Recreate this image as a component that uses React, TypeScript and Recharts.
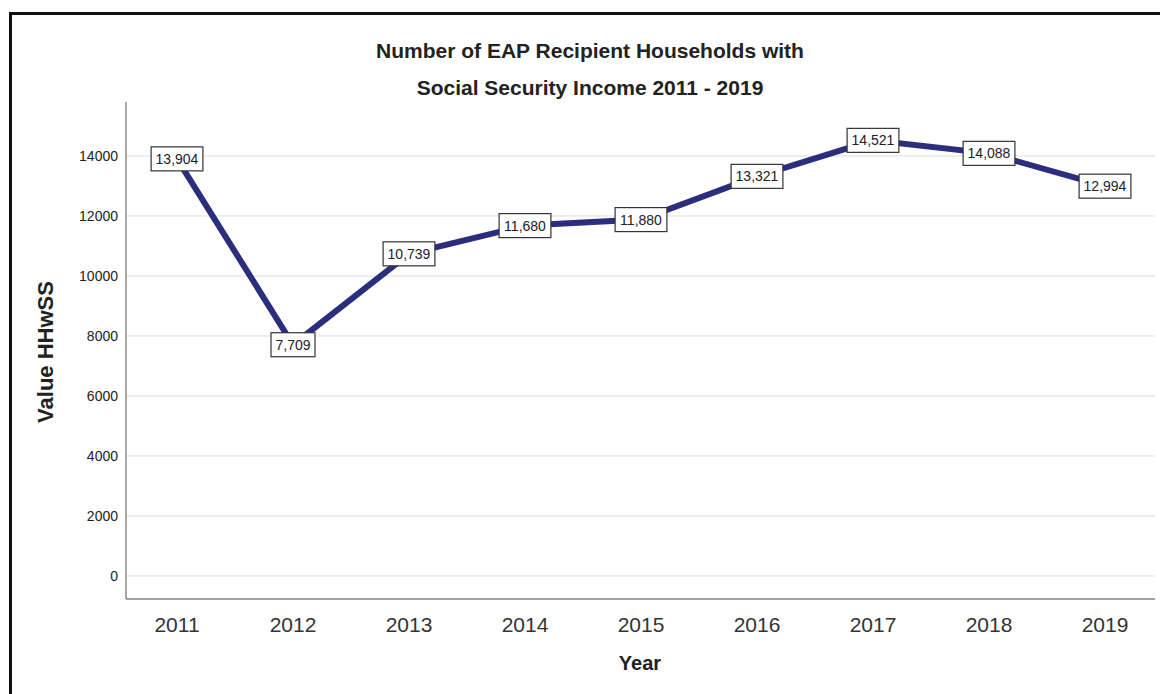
import React from "react";
import { LineChart, Line, XAxis, YAxis, CartesianGrid, LabelList } from "recharts";

const years = ["2011", "2012", "2013", "2014", "2015", "2016", "2017", "2018", "2019"];
const households = [13904, 7709, 10739, 11680, 11880, 13321, 14521, 14088, 12994];
const yTicks = [0, 2000, 4000, 6000, 8000, 10000, 12000, 14000];

const data = years.map((year, i) => ({ year, value: households[i] }));

const font = "Arial, 'Liberation Sans', sans-serif";

function BoxLabel(props: any) {
  const { x, y, value } = props;
  const text = Number(value).toLocaleString("en-US");
  const w = text.length * 7.8 + 5;
  const h = 24;
  return (
    <g>
      <rect x={x - w / 2} y={y - h / 2} width={w} height={h} fill="#fff" stroke="#333" strokeWidth={1.2} />
      <text x={x} y={y + 5} textAnchor="middle" fontSize={14} fontFamily={font} fill="#222">
        {text}
      </text>
    </g>
  );
}

export default function App() {
  return (
    <div style={{ position: "absolute", left: 0, top: 0, width: 1160, height: 694, background: "#fff", overflow: "hidden", fontFamily: font }}>
      <div style={{ position: "absolute", left: 9, top: 12, width: 1160, height: 694, borderTop: "3px solid #111", borderLeft: "3px solid #111" }} />
      <div style={{ position: "absolute", left: 290, width: 600, top: 32, textAlign: "center", fontSize: 21, fontWeight: "bold", color: "#222", lineHeight: "37px" }}>
        Number of EAP Recipient Households with
        <br />
        Social Security Income 2011 - 2019
      </div>
      <div style={{ position: "absolute", left: 46, top: 352, transform: "translate(-50%, -50%) rotate(-90deg)", whiteSpace: "nowrap", fontSize: 22, fontWeight: "bold", color: "#222" }}>
        Value HHwSS
      </div>
      <div style={{ position: "absolute", left: 640, top: 663, transform: "translate(-50%, -50%)", fontSize: 20, fontWeight: "bold", color: "#222" }}>
        Year
      </div>
      <div style={{ position: "absolute", left: 0, top: 0 }}>
        <LineChart width={1160} height={694} data={data} margin={{ top: 102, right: 5, bottom: 65, left: 66 }}>
          <CartesianGrid vertical={false} stroke="#dcdcdc" horizontalValues={yTicks} />
          <XAxis
            dataKey="year"
            height={30}
            padding={{ left: 51, right: 50 }}
            tickLine={false}
            tickMargin={12}
            stroke="#444"
            tick={{ fontSize: 21, fill: "#333", fontFamily: font }}
          />
          <YAxis
            width={60}
            domain={[-767, 15800]}
            ticks={yTicks}
            interval={0}
            tickLine={false}
            stroke="#555"
            tick={{ fontSize: 14, fill: "#222", fontFamily: font }}
          />
          <Line
            dataKey="value"
            stroke="#2b2e7c"
            strokeWidth={6}
            dot={false}
            isAnimationActive={false}
          >
            <LabelList dataKey="value" content={<BoxLabel />} />
          </Line>
        </LineChart>
      </div>
    </div>
  );
}
